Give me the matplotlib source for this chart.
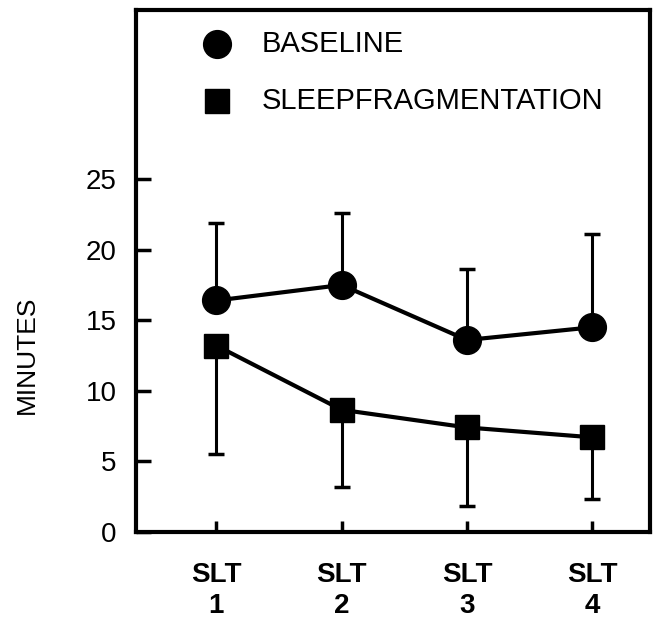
import matplotlib
matplotlib.use('Agg')
import matplotlib.pyplot as plt

# data
sessions = [1, 2, 3, 4]
tick_labels = ['SLT\n1', 'SLT\n2', 'SLT\n3', 'SLT\n4']
baseline = [16.4, 17.5, 13.6, 14.5]
baseline_err_up = [5.5, 5.1, 5.0, 6.6]
sleepfrag = [13.2, 8.65, 7.4, 6.7]
sleepfrag_err_down = [7.7, 5.45, 5.6, 4.4]
series_names = ['BASELINE', 'SLEEPFRAGMENTATION']

plt.rcParams['font.family'] = ['Liberation Sans', 'DejaVu Sans']

fig = plt.figure(figsize=(6.55, 6.22), dpi=100)
ax = fig.add_axes([0.208, 0.145, 0.784, 0.839])

# error bars: baseline upward only, sleep fragmentation downward only
ax.errorbar(sessions, baseline, yerr=[[0] * 4, baseline_err_up], fmt='none',
            ecolor='black', elinewidth=2.2, capsize=6, capthick=2.5, zorder=2)
ax.errorbar(sessions, sleepfrag, yerr=[sleepfrag_err_down, [0] * 4], fmt='none',
            ecolor='black', elinewidth=2.2, capsize=6, capthick=2.5, zorder=2)

ax.plot(sessions, baseline, color='black', lw=3, marker='o', ms=20, zorder=3)
ax.plot(sessions, sleepfrag, color='black', lw=3, marker='s', ms=17, zorder=3)

ax.set_xlim(0.36, 4.46)
ax.set_ylim(0, 37)
ax.set_yticks([0, 5, 10, 15, 20, 25])
ax.set_xticks(sessions)
ax.set_xticklabels(tick_labels, fontweight='bold', fontsize=20, linespacing=1.25)
ax.tick_params(axis='y', direction='in', length=11, width=2.5, labelsize=20, pad=14)
ax.tick_params(axis='x', direction='in', length=8, width=2.5, pad=22)
ax.set_ylabel('MINUTES', fontsize=19)
ax.yaxis.set_label_coords(-0.19, 0.34)

for s in ax.spines.values():
    s.set_linewidth(3)

# key in the upper part of the box (no connecting line)
ax.plot([0.158], [0.935], color='black', marker='o', ms=20, transform=ax.transAxes)
ax.plot([0.158], [0.826], color='black', marker='s', ms=17, transform=ax.transAxes)
ax.text(0.245, 0.935, series_names[0], fontsize=21, va='center',
        transform=ax.transAxes)
ax.text(0.245, 0.826, series_names[1], fontsize=21, va='center',
        transform=ax.transAxes)

plt.savefig('out.png', dpi=100)
